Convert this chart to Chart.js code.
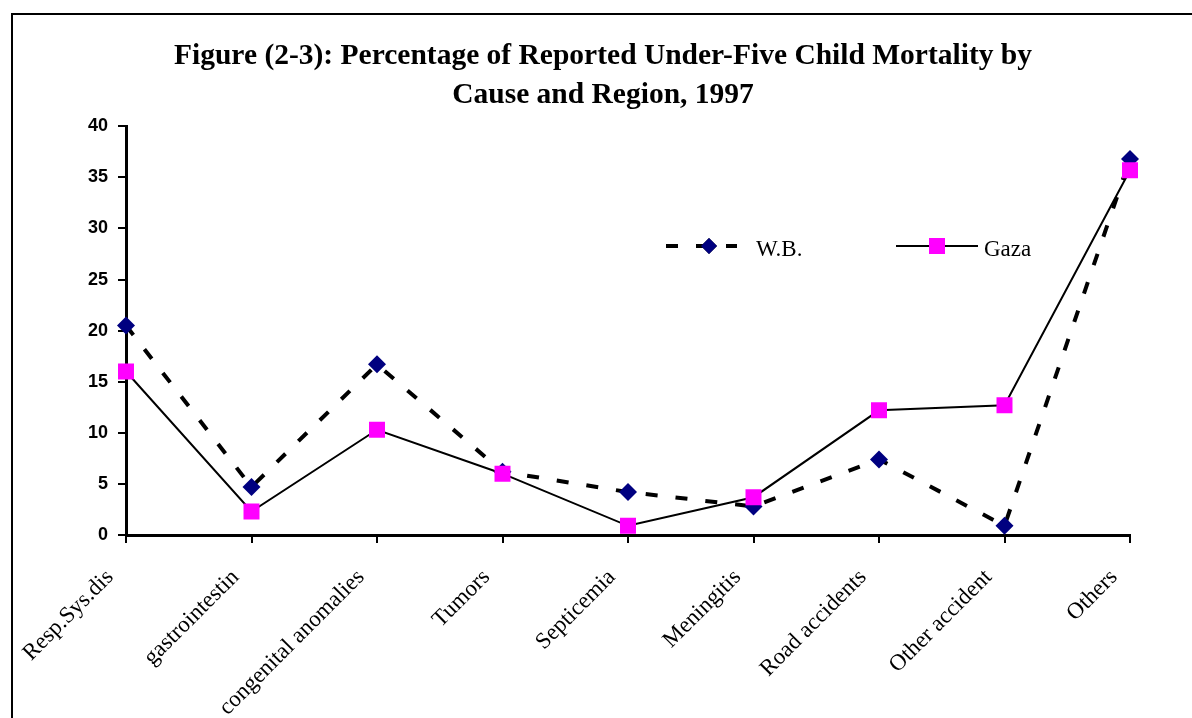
<!DOCTYPE html>
<html>
<head>
<meta charset="utf-8">
<script src="https://cdn.jsdelivr.net/npm/chart.js@4.4.0/dist/chart.umd.min.js"></script>
<style>
  html, body { margin: 0; padding: 0; background: #fff; overflow: hidden; }
  #frame { position: absolute; left: 11px; top: 13px; width: 1300px; height: 800px; border: 2px solid #000; }
  #myChart { position: absolute; left: 0; top: 0; }
</style>
</head>
<body>
<div id="frame"></div>
<canvas id="myChart" width="1192" height="718"></canvas>
<script>
const causes = ['Resp.Sys.dis', 'gastrointestin', 'congenital anomalies', 'Tumors', 'Septicemia',
  'Meningitis', 'Road accidents', 'Other accident', 'Others'];
const westBank = [20.5, 4.7, 16.7, 6.2, 4.2, 2.8, 7.4, 0.9, 36.8];
const gaza = [16.0, 2.3, 10.3, 6.0, 0.9, 3.7, 12.2, 12.7, 35.7];
const yTicks = [0, 5, 10, 15, 20, 25, 30, 35, 40];

// legend drawn inside the plot, like the original
const insideLegend = {
  id: 'insideLegend',
  afterDraw(chart) {
    const ctx = chart.ctx;
    const wb = chart.data.datasets[0];
    const gz = chart.data.datasets[1];
    ctx.save();
    // W.B.
    ctx.strokeStyle = wb.borderColor;
    ctx.lineWidth = wb.borderWidth;
    ctx.setLineDash(wb.borderDash);
    ctx.beginPath();
    ctx.moveTo(666, 246);
    ctx.lineTo(737, 246);
    ctx.stroke();
    ctx.setLineDash([]);
    Chart.helpers.drawPoint(ctx, { pointStyle: wb.pointStyle, radius: 8, borderWidth: 0 }, 709, 246);
    ctx.fillStyle = wb.pointBackgroundColor;
    ctx.fill();
    // Gaza
    ctx.strokeStyle = gz.borderColor;
    ctx.lineWidth = gz.borderWidth;
    ctx.beginPath();
    ctx.moveTo(896, 246);
    ctx.lineTo(978, 246);
    ctx.stroke();
    ctx.fillStyle = gz.pointBackgroundColor;
    ctx.fillRect(929, 238, 16, 16);
    // labels
    ctx.fillStyle = '#000';
    ctx.font = '23px "Liberation Serif", "Times New Roman", serif';
    ctx.textBaseline = 'alphabetic';
    ctx.fillText(wb.label, 756, 256);
    ctx.fillText(gz.label, 984, 256);
    ctx.restore();
  }
};

const chart = new Chart(
  document.getElementById('myChart'),
  {
    type: 'line',
    data: {
      labels: causes,
      datasets: [
        {
          label: 'W.B.',
          data: westBank,
          borderColor: '#000',
          borderWidth: 4,
          borderDash: [12, 18],
          fill: false,
          tension: 0,
          pointStyle: 'rectRot',
          pointRadius: 9,
          pointBorderWidth: 0,
          pointBackgroundColor: '#000080',
          pointBorderColor: '#000080',
          order: 2,
        },
        {
          label: 'Gaza',
          data: gaza,
          borderColor: '#000',
          borderWidth: 2,
          fill: false,
          tension: 0,
          pointStyle: 'rect',
          pointRadius: 11.3,
          pointBorderWidth: 0,
          pointBackgroundColor: '#FF00FF',
          pointBorderColor: '#FF00FF',
          order: 1,
        },
      ],
    },
    options: {
      responsive: false,
      animation: false,
      events: [],
      layout: { padding: { left: 76, right: 62, top: 0, bottom: 0 } },
      plugins: {
        legend: { display: false },
        tooltip: { enabled: false },
        title: {
          display: true,
          text: ['Figure (2-3): Percentage of Reported Under-Five Child Mortality by', 'Cause and Region, 1997'],
          color: '#000',
          font: { family: '"Liberation Serif", "Times New Roman", serif', size: 29.5, weight: 'bold', lineHeight: 1.31 },
          padding: { top: 37, bottom: 12 },
        },
      },
      scales: {
        x: {
          offset: false,
          grid: { drawOnChartArea: false, drawTicks: true, tickLength: 8, color: '#000', lineWidth: 2 },
          border: { display: true, color: '#000', width: 3 },
          ticks: {
            autoSkip: false,
            minRotation: 45,
            maxRotation: 45,
            padding: 21,
            labelOffset: -16,
            color: '#000',
            font: { family: '"Liberation Serif", "Times New Roman", serif', size: 23 },
          },
          afterFit(scale) { scale.height = 183; },
        },
        y: {
          min: 0,
          max: 40,
          afterBuildTicks(scale) { scale.ticks = yTicks.map(v => ({ value: v })); },
          grid: { drawOnChartArea: false, drawTicks: true, tickLength: 8, color: '#000', lineWidth: 2 },
          border: { display: true, color: '#000', width: 3 },
          ticks: {
            padding: 10,
            color: '#000',
            font: { family: '"Liberation Sans", Arial, sans-serif', size: 18, weight: 'bold' },
          },
          afterFit(scale) { scale.width = 50; },
        },
      },
    },
    plugins: [insideLegend],
  }
);
</script>
</body>
</html>
